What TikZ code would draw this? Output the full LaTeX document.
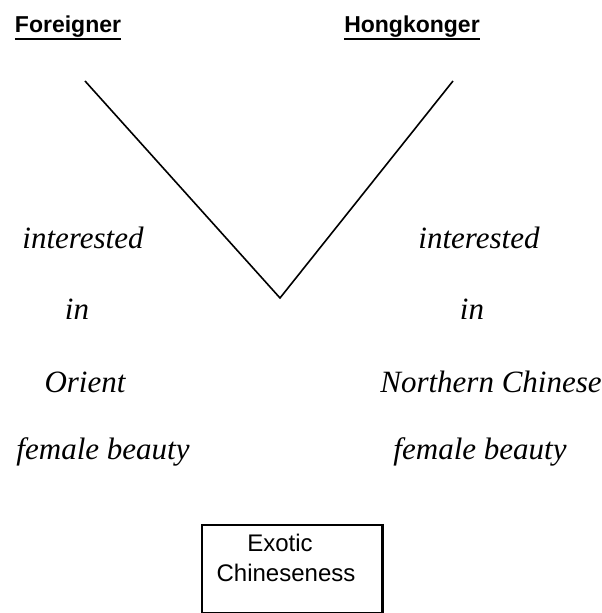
\documentclass[tikz,border=0pt]{standalone}
\usepackage{fontspec}
\setmainfont{Liberation Serif}
\setsansfont{Liberation Sans}
\usepackage{tikz}
\usetikzlibrary{positioning,calc}

\begin{document}
\begin{tikzpicture}[x=1pt,y=1pt,
    head/.style={font=\sffamily\bfseries\fontsize{23}{27}\selectfont, inner sep=0pt, anchor=base},
    lbl/.style={font=\itshape\fontsize{31}{36}\selectfont, inner sep=0pt, anchor=base},
    boxtext/.style={font=\sffamily\fontsize{24}{30}\selectfont, inner sep=0pt, anchor=base}]
  \useasboundingbox (0,0) rectangle (602,613);
  % the two groups on top
  \node[head] (frn) at (68,580) {Foreigner};
  \node[head] (hkg) at (412,580) {Hongkonger};
  \draw[line width=1.6pt] ($(frn.base west)+(0,-6)$) -- ($(frn.base east)+(0,-6)$);
  \draw[line width=1.6pt] ($(hkg.base west)+(0,-6)$) -- ($(hkg.base east)+(0,-6)$);
  % the v between them
  \coordinate (vl) at (85,532);
  \coordinate (vr) at (453,532);
  \coordinate (vtip) at (280,315);
  \draw[line width=1.6pt] (vl) -- (vtip) -- (vr);
  % left column
  \node[lbl] (lint) at (83,364) {interested};
  \node[lbl] (lin)  at (77,293) {in};
  \node[lbl] (lori) at (85,220) {Orient};
  \node[lbl] (lfem) at (103,153) {female beauty};
  % right column
  \node[lbl] (rint) at (479,364) {interested};
  \node[lbl] (rin)  at (472,293) {in};
  \node[lbl] (rnch) at (491,220) {Northern Chinese};
  \node[lbl] (rfem) at (480,153) {female beauty};
  % box at the bottom
  \node[draw, line width=1.6pt, minimum width=180pt, minimum height=88pt,
        inner sep=0pt, anchor=north west] (box) at (201,89) {};
  \draw[line width=2.6pt] (box.north east) -- (box.south east);
  \node[boxtext] (exo)  at (280,61) {Exotic};
  \node[boxtext] (chin) at (286,31) {Chineseness};
\end{tikzpicture}
\end{document}
